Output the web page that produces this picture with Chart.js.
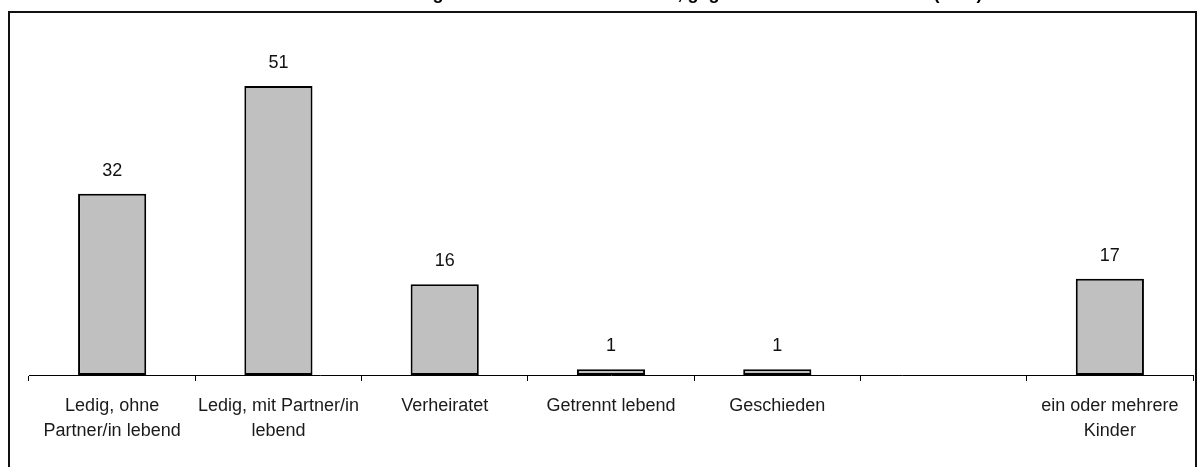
<!DOCTYPE html>
<html>
<head>
<meta charset="utf-8">
<script src="https://cdn.jsdelivr.net/npm/chart.js@4/dist/chart.umd.min.js"></script>
<style>
  html, body { margin: 0; padding: 0; background: #fff; }
  #wrap { position: relative; width: 1204px; height: 467px; }
</style>
</head>
<body>
<div id="wrap"><canvas id="c" width="1204" height="467"></canvas></div>
<script>
const titleText = "Familienstand der Befragten und Kinder im Haushalt, gegliedert nach Lebensform (in %)";
const categories = [
  ["Ledig, ohne", "Partner/in lebend"],
  ["Ledig, mit Partner/in", "lebend"],
  "Verheiratet",
  "Getrennt lebend",
  "Geschieden",
  "",
  ["ein oder mehrere", "Kinder"]
];
const values = [32, 51, 16, 1, 1, null, 17];
const yMin = 0;
const yMax = 60;

const FONT = "'Liberation Sans', Arial, sans-serif";

const framePlugin = {
  id: 'frame',
  beforeDraw(chart) {
    const ctx = chart.ctx;
    ctx.save();
    ctx.fillStyle = '#fff';
    ctx.fillRect(0, 0, chart.width, chart.height);
    ctx.strokeStyle = '#111';
    ctx.lineWidth = 2;
    ctx.strokeRect(9, 12, 1187, 500);
    // title (mostly above the visible area; only descenders show)
    ctx.fillStyle = '#000';
    ctx.font = "bold 18px " + FONT;
    ctx.textAlign = 'center';
    ctx.textBaseline = 'alphabetic';
    ctx.fillText(titleText, 605, -1.5);
    ctx.restore();
  }
};

const valueLabels = {
  id: 'valueLabels',
  afterDatasetsDraw(chart) {
    const ctx = chart.ctx;
    const meta = chart.getDatasetMeta(0);
    ctx.save();
    ctx.fillStyle = '#111';
    ctx.font = "18px " + FONT;
    ctx.textAlign = 'center';
    ctx.textBaseline = 'middle';
    meta.data.forEach((bar, i) => {
      const v = values[i];
      if (v === null || v === undefined) return;
      ctx.fillText(String(v), bar.x, bar.y - 23);
    });
    ctx.restore();
  }
};

new Chart(document.getElementById('c'), {
  type: 'bar',
  data: {
    labels: categories,
    datasets: [{
      data: values,
      backgroundColor: '#c0c0c0',
      borderColor: '#000',
      borderWidth: 2,
      borderSkipped: false,
      categoryPercentage: 1.0,
      barPercentage: 0.41
    }]
  },
  options: {
    responsive: false,
    animation: false,
    devicePixelRatio: 1,
    layout: { padding: { left: 29, right: 11, top: 35, bottom: 0 } },
    plugins: {
      legend: { display: false },
      title: { display: false },
      tooltip: { enabled: false }
    },
    scales: {
      x: {
        grid: {
          display: true,
          drawOnChartArea: false,
          drawTicks: true,
          tickLength: 6,
          color: '#000',
          lineWidth: 1,
          offset: true
        },
        border: { display: true, color: '#000', width: 1 },
        ticks: {
          color: '#1a1a1a',
          font: { family: FONT, size: 18, lineHeight: 1.36 },
          padding: 13,
          maxRotation: 0,
          autoSkip: false
        },
        afterFit(scale) { scale.height = 92; }
      },
      y: {
        display: false,
        min: yMin,
        max: yMax
      }
    }
  },
  plugins: [framePlugin, valueLabels]
});
</script>
</body>
</html>
